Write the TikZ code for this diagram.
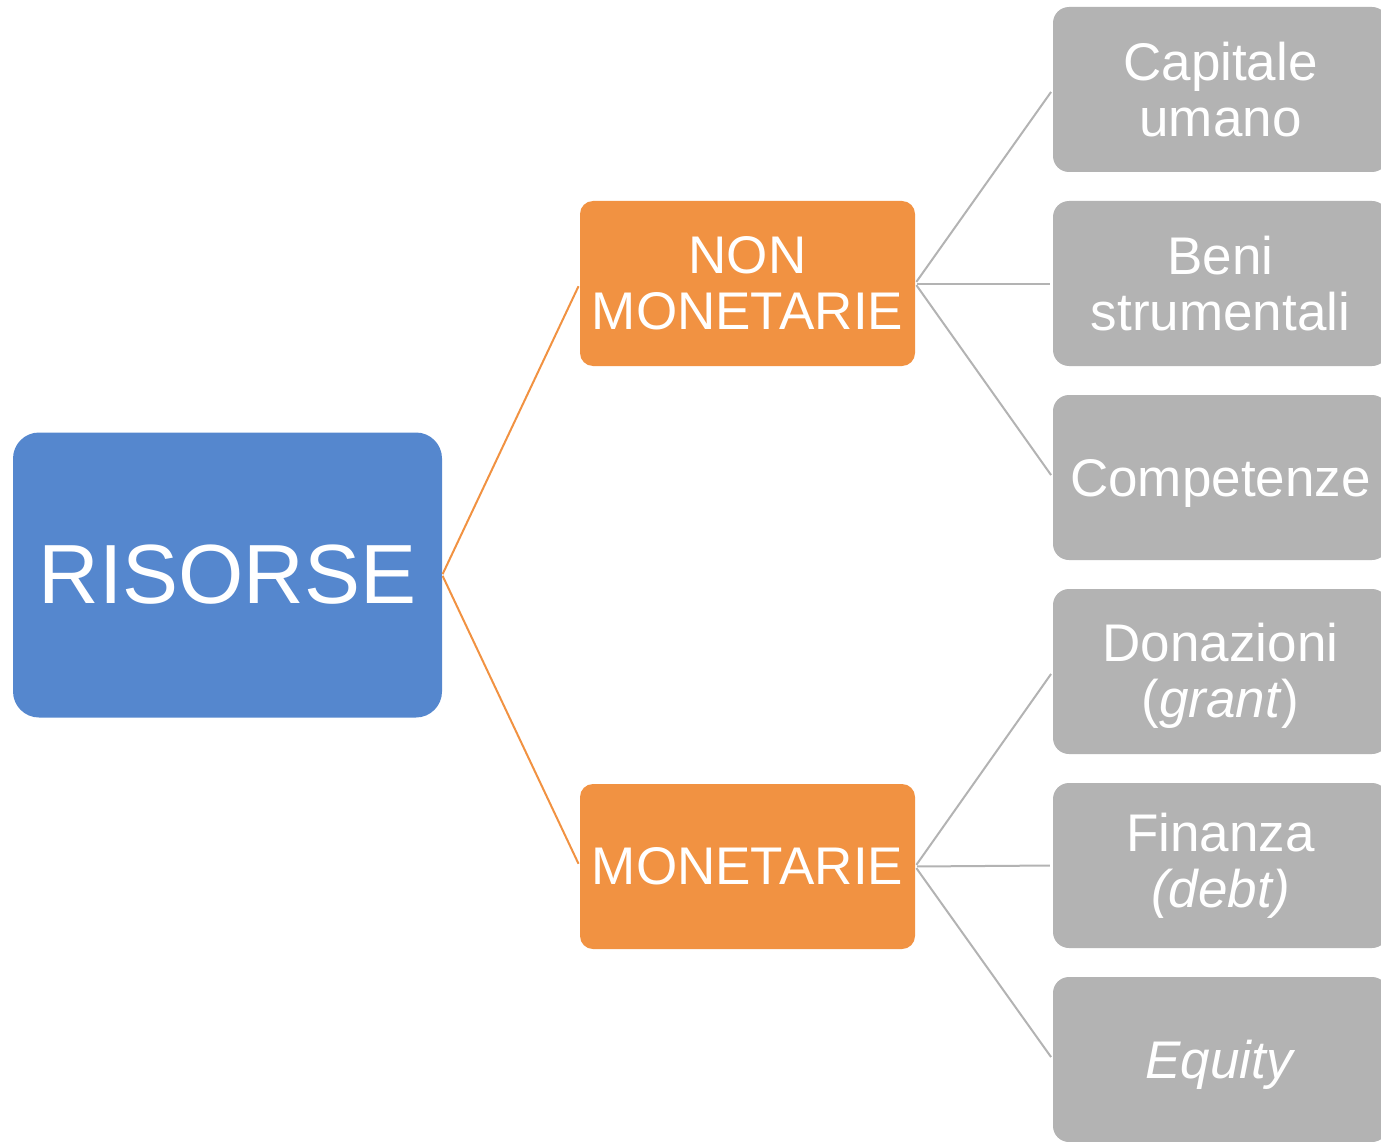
\documentclass[tikz,border=0pt]{standalone}
\usepackage{fontspec}
\setmainfont{Liberation Sans}
\definecolor{rblue}{RGB}{85,135,206}
\definecolor{rorange}{RGB}{241,146,66}
\definecolor{rgray}{RGB}{179,179,179}
\begin{document}
\begin{tikzpicture}[x=1pt,y=-1pt,
  base/.style={text=white, align=center, inner sep=0pt,
    font=\fontsize{53}{56}\selectfont, minimum width=335pt, minimum height=165pt},
  cat/.style={base, rounded corners=13pt, fill=rorange},
  leaf/.style={base, rounded corners=16pt, fill=rgray},
  root/.style={rounded corners=26pt, fill=rblue, text=white, inner sep=0pt,
    minimum width=429pt, minimum height=285pt, font=\fontsize{84}{90}\selectfont},
  olink/.style={draw=rorange, line width=2pt, shorten <=1pt, shorten >=3pt},
  glink/.style={draw=rgray, line width=2pt, shorten <=2pt, shorten >=3pt}]
\clip (0,0) rectangle (1381,1142);
\node[root] (r) at (227.5,575) {RISORSE};
\node[cat] (nm) at (747.5,283.5) {NON\\MONETARIE};
\node[cat] (m) at (747.5,866.5) {MONETARIE};
\node[leaf] (l1) at (1220.5,89.5) {Capitale\\umano};
\node[leaf] (l2) at (1220.5,283.5) {Beni\\strumentali};
\node[leaf, text depth=0pt] (l3) at (1220.5,477.5) {Competenze};
\node[leaf] (l4) at (1220.5,671.5) {\rule{0pt}{46pt}Donazioni\\(\textit{grant})};
\node[leaf] (l5) at (1220.5,865.5) {Finanza\\\textit{(debt)}};
\node[leaf, text depth=0pt, text height=37pt] (l6) at (1220.5,1059.5) {\textit{Equity}};
\draw[olink] (r.east) -- (nm.west);
\draw[olink] (r.east) -- (m.west);
\draw[glink] (nm.east) -- (l1.west);
\draw[glink] (nm.east) -- (l2.west);
\draw[glink] (nm.east) -- (l3.west);
\draw[glink] (m.east) -- (l4.west);
\draw[glink] (m.east) -- (l5.west);
\draw[glink] (m.east) -- (l6.west);
\end{tikzpicture}
\end{document}
